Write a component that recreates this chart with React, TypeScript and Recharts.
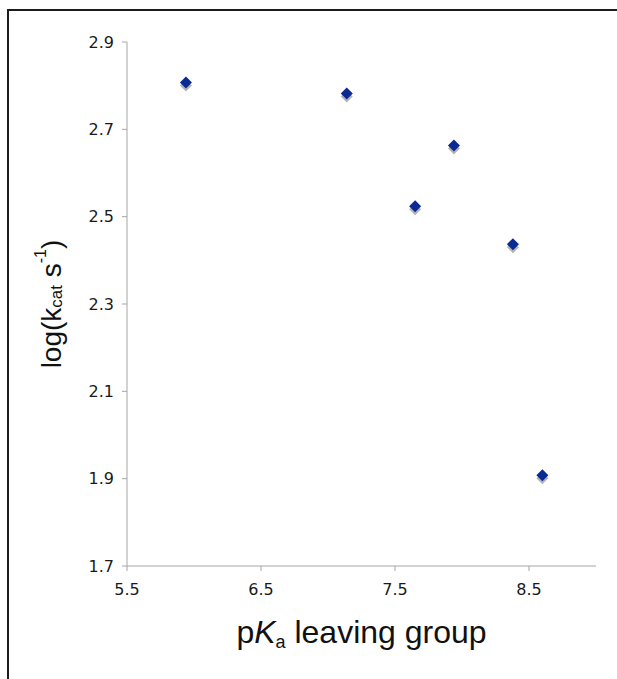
import React from 'react';
import { ScatterChart, Scatter, XAxis, YAxis, Label } from 'recharts';

// pKa of the leaving group vs log(kcat s^-1)
const pKaValues = [5.94, 7.14, 7.65, 7.94, 8.38, 8.6];
const logKcatValues = [2.807, 2.782, 2.524, 2.663, 2.437, 1.908];
const xTicks = [5.5, 6.5, 7.5, 8.5];
const yTicks = [1.7, 1.9, 2.1, 2.3, 2.5, 2.7, 2.9];

const points = pKaValues.map((x, i) => ({ x, y: logKcatValues[i] }));

const MARKER = '#0b2a94';
const SHADOW = '#b4b4b4';
const AXIS = '#a6a6a6';

const Diamond = (props: any) => {
  const { cx, cy } = props;
  const r = 6;
  const path = (ox: number, oy: number) =>
    `M${ox},${oy - r} L${ox + r},${oy} L${ox},${oy + r} L${ox - r},${oy} Z`;
  return (
    <g>
      <path d={path(cx, cy + 3)} fill={SHADOW} />
      <path d={path(cx, cy)} fill={MARKER} />
    </g>
  );
};

const YTitle = (props: any) => {
  const { viewBox } = props;
  const x = 51;
  const y = viewBox.y + viewBox.height / 2;
  return (
    <text
      x={x}
      y={y}
      transform={`rotate(-90, ${x}, ${y})`}
      textAnchor="middle"
      dominantBaseline="central"
      fontFamily="'Liberation Sans', Arial, sans-serif"
      fontSize={28}
      fill="#111"
    >
      <tspan>log(k</tspan>
      <tspan fontSize={17} dy={5}>cat</tspan>
      <tspan dy={-5}> s</tspan>
      <tspan fontSize={16} dy={-11}>-1</tspan>
      <tspan dy={11}>)</tspan>
    </text>
  );
};

const XTitle = (props: any) => {
  const { viewBox } = props;
  const x = viewBox.x + viewBox.width / 2;
  return (
    <text
      x={x}
      y={643}
      textAnchor="middle"
      fontFamily="'Liberation Sans', Arial, sans-serif"
      fontSize={32}
      fill="#111"
    >
      <tspan>p</tspan>
      <tspan fontStyle="italic">K</tspan>
      <tspan fontSize={18} dy={5}>a</tspan>
      <tspan dy={-5}> leaving group</tspan>
    </text>
  );
};

const tickStyle = { fontSize: 16, fill: '#1a1a1a', fontFamily: "'DejaVu Sans', Verdana, sans-serif" };

export default function App() {
  return (
    <div style={{ position: 'absolute', left: 0, top: 0, width: 617, height: 679, background: '#fff' }}>
      <div
        style={{
          position: 'absolute',
          left: 7,
          top: 9,
          width: 610,
          height: 670,
          borderTop: '2px solid #1c1c1c',
          borderLeft: '2px solid #1c1c1c',
        }}
      />
      <div style={{ position: 'absolute', left: 0, top: 0 }}>
        <ScatterChart width={617} height={679} margin={{ top: 42, right: 21, bottom: 0, left: 0 }}>
          <XAxis
            type="number"
            dataKey="x"
            domain={[5.5, 9.0]}
            ticks={xTicks}
            allowDataOverflow
            height={113}
            stroke={AXIS}
            tickSize={5}
            tickMargin={13}
            tick={tickStyle}
            tickFormatter={(v: number) => v.toFixed(1)}
          >
            <Label content={<XTitle />} />
          </XAxis>
          <YAxis
            type="number"
            dataKey="y"
            domain={[1.7, 2.9]}
            ticks={yTicks}
            allowDataOverflow
            width={127}
            stroke={AXIS}
            tickSize={5}
            tickMargin={8}
            tick={tickStyle}
            tickFormatter={(v: number) => v.toFixed(1)}
          >
            <Label content={<YTitle />} />
          </YAxis>
          <Scatter data={points} shape={<Diamond />} isAnimationActive={false} />
        </ScatterChart>
      </div>
    </div>
  );
}
